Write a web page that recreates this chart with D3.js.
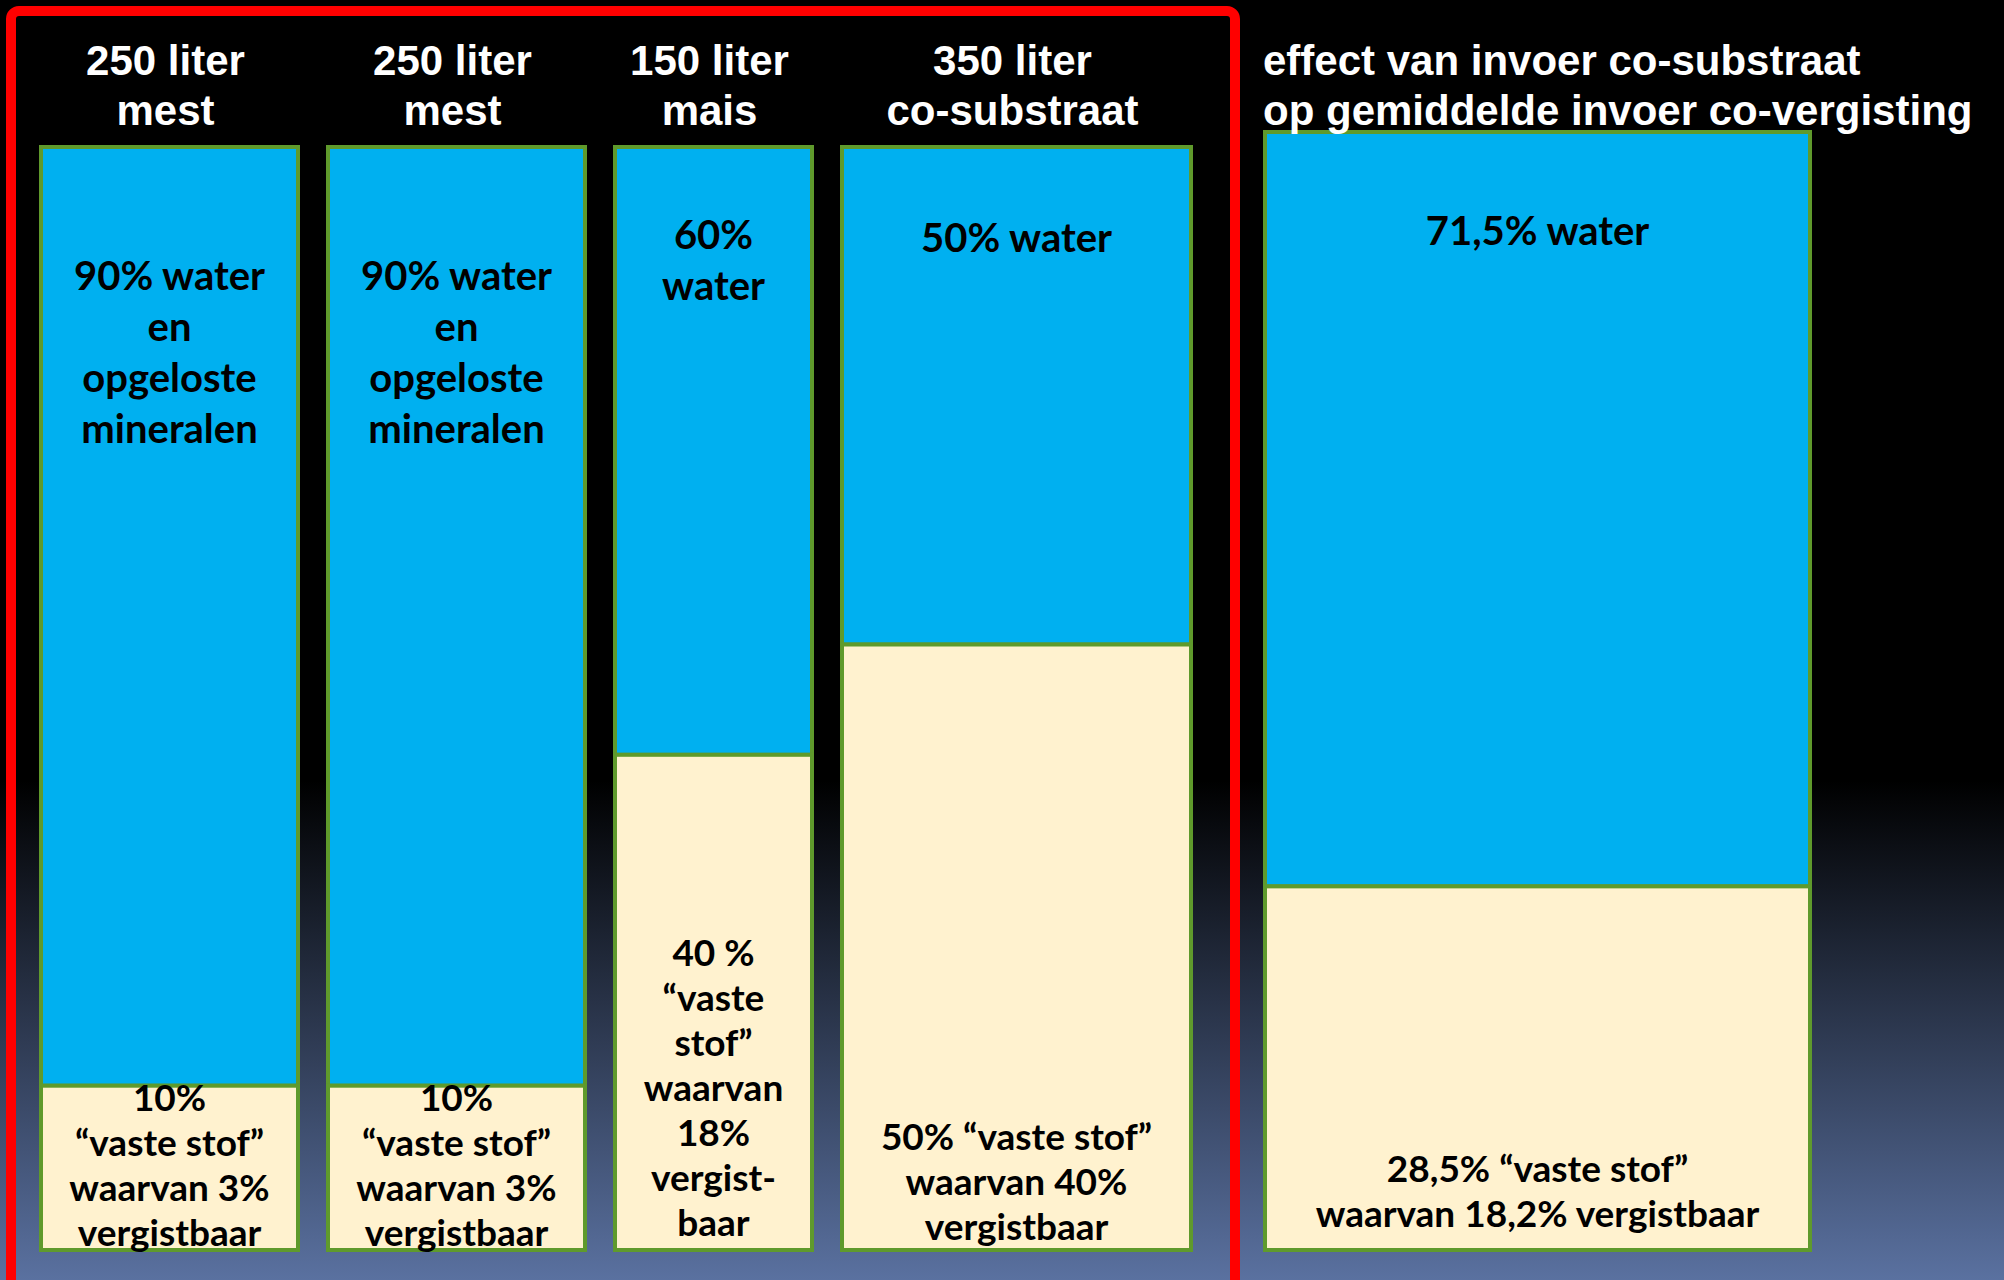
<!DOCTYPE html>
<html>
<head>
<meta charset="utf-8">
<script src="https://cdn.jsdelivr.net/npm/d3@7"></script>
<style>
  body { margin: 0; background: #000; }
  .header { font-family: "Liberation Sans", Arial, sans-serif; font-weight: bold; font-size: 42px; fill: #fff; }
  .waterLabel { font-family: Lato, "Open Sans", sans-serif; font-weight: bold; font-size: 40px; fill: #000; }
  .solidsLabel { font-family: Lato, "Open Sans", sans-serif; font-weight: bold; font-size: 37px; fill: #000; }
</style>
</head>
<body>
<svg id="chart" width="2004" height="1280"></svg>
<script>

/*****************
***** DATA *****
*****************/

// volumes of each input (the last column is the mixed total)
const liters = [250, 250, 150, 350, 1000];

// header text per column
const headers = [
    ["250 liter", "mest"],
    ["250 liter", "mest"],
    ["150 liter", "mais"],
    ["350 liter", "co-substraat"],
    ["effect van invoer co-substraat", "op gemiddelde invoer co-vergisting"]
];

// composition in percent
const waterPct = [90, 90, 60, 50, 71.5];
const solidsPct = [10, 10, 40, 50, 28.5];
const digestiblePct = [3, 3, 18, 40, 18.2];

const waterLabels = [
    ["90% water", "en", "opgeloste", "mineralen"],
    ["90% water", "en", "opgeloste", "mineralen"],
    ["60%", "water"],
    ["50% water"],
    ["71,5% water"]
];

const solidsLabels = [
    ["10%", "“vaste stof”", "waarvan 3%", "vergistbaar"],
    ["10%", "“vaste stof”", "waarvan 3%", "vergistbaar"],
    ["40 %", "“vaste", "stof”", "waarvan", "18%", "vergist-", "baar"],
    ["50% “vaste stof”", "waarvan 40%", "vergistbaar"],
    ["28,5% “vaste stof”", "waarvan 18,2% vergistbaar"]
];

/***********************
***** BASIC SETUP *****
***********************/

const width = 2004;
const height = 1280;
const svg = d3.select("#chart");

const panelLeft = 41;     // first column in the red frame
const colGap = 30;
const summaryLeft = 1265; // the "effect" column
const barBottom = 1250;
const panelTop = 147;
const summaryTop = 132;
const labelPad = [54, 54, 54, 54, 45]; // extra room kept under the split for the labels

// text placement per column (first water baseline below the top, last solids baseline above the bottom)
const waterLabelDy = [143, 143, 102, 105, 113];
const solidsLabelDy = [4, 4, 14, 10, 23];
const waterLineH = 51;
const solidsLineH = 45;

const colors = {water: "#00b0f0", solids: "#fff2cf", edge: "#5f9a2c", frame: "#ff0000"};

/**************************
***** BACKGROUND ***********
**************************/

const defs = svg.append("defs");
const grad = defs.append("linearGradient")
    .attr("id", "bg")
    .attr("x1", 0).attr("y1", 0).attr("x2", 0).attr("y2", 1);
grad.append("stop").attr("offset", "0%").attr("stop-color", "#000");
grad.append("stop").attr("offset", "61%").attr("stop-color", "#000");
grad.append("stop").attr("offset", "100%").attr("stop-color", "#5a71a0");

svg.append("rect")
    .attr("width", width)
    .attr("height", height)
    .attr("fill", "url(#bg)");

/***********************
***** X & Y SCALES *****
***********************/

// column width from volume (not strictly proportional in the original)
const widthScale = d3.scaleLinear()
    .domain([150, 250, 350, 1000])
    .range([197, 257, 349, 545]);

const cols = liters.map((l, i) => ({
    i: i,
    liters: l,
    w: widthScale(l),
    top: i < 4 ? panelTop : summaryTop,
    water: waterPct[i],
    solids: solidsPct[i],
    digestible: digestiblePct[i]
}));

let xCursor = panelLeft;
cols.forEach((d, i) => {
    if (i < 4) {
        d.x = xCursor;
        xCursor += d.w + colGap;
    } else {
        d.x = summaryLeft;
    }
    d.y = d3.scaleLinear()
        .domain([0, 100])
        .range([d.top - labelPad[i], barBottom - labelPad[i]]);
    d.split = d.y(d.water);
});

/*******************
***** RED FRAME *****
*******************/

svg.append("rect")
    .attr("x", 11)
    .attr("y", 11)
    .attr("width", 1224)
    .attr("height", 1320)
    .attr("rx", 8)
    .attr("fill", "none")
    .attr("stroke", colors.frame)
    .attr("stroke-width", 10);

/***************
***** BARS *****
***************/

const plot = svg.append("g").attr("id", "plot");

plot.selectAll(".water")
    .data(cols)
    .enter()
    .append("rect")
    .attr("class", "water")
    .attr("x", d => d.x)
    .attr("y", d => d.top)
    .attr("width", d => d.w)
    .attr("height", d => d.split - d.top)
    .attr("fill", colors.water)
    .attr("stroke", colors.edge)
    .attr("stroke-width", 4);

plot.selectAll(".solids")
    .data(cols)
    .enter()
    .append("rect")
    .attr("class", "solids")
    .attr("x", d => d.x)
    .attr("y", d => d.split)
    .attr("width", d => d.w)
    .attr("height", d => barBottom - d.split)
    .attr("fill", colors.solids)
    .attr("stroke", colors.edge)
    .attr("stroke-width", 4);

/*********************
***** BAR LABELS *****
*********************/

cols.forEach(d => {
    const cx = d.x + d.w / 2;

    plot.append("text")
        .attr("class", "waterLabel")
        .attr("text-anchor", "middle")
        .selectAll("tspan")
        .data(waterLabels[d.i])
        .enter()
        .append("tspan")
        .attr("x", cx)
        .attr("y", (t, j) => d.top + waterLabelDy[d.i] + j * waterLineH)
        .text(t => t);

    const lines = solidsLabels[d.i];
    const lastY = barBottom - solidsLabelDy[d.i];
    plot.append("text")
        .attr("class", "solidsLabel")
        .attr("text-anchor", "middle")
        .selectAll("tspan")
        .data(lines)
        .enter()
        .append("tspan")
        .attr("x", cx)
        .attr("y", (t, j) => lastY - (lines.length - 1 - j) * solidsLineH)
        .text(t => t);
});

/******************
***** HEADERS *****
******************/

const header = svg.append("g").attr("id", "header");

cols.forEach(d => {
    const summary = d.i === 4;
    header.append("text")
        .attr("class", "header")
        .attr("text-anchor", summary ? "start" : "middle")
        .selectAll("tspan")
        .data(headers[d.i])
        .enter()
        .append("tspan")
        .attr("x", summary ? d.x - 2 : d.x + d.w / 2 - 4)
        .attr("y", (t, j) => 75 + j * 50)
        .text(t => t);
});

</script>
</body>
</html>
